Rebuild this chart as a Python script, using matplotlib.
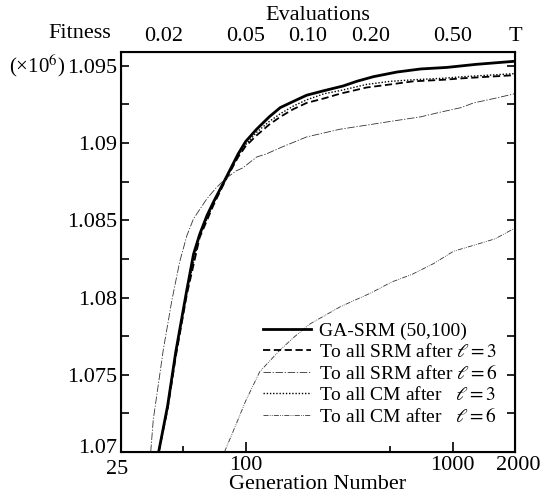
import matplotlib
matplotlib.use("Agg")
import matplotlib.pyplot as plt
from matplotlib.ticker import FixedLocator, NullFormatter, FuncFormatter
from matplotlib.transforms import ScaledTranslation

plt.rcParams["font.family"] = ["Liberation Serif", "DejaVu Serif"]
plt.rcParams["mathtext.fontset"] = "stix"
fs = 16      # tick labels, axis titles
fs_leg = 14  # legend

# GA-SRM (50,100)
gen_ga = [38, 42, 46, 52, 56, 60, 65, 70, 80, 92, 100, 113, 130, 147, 170, 197,
          240, 296, 344, 414, 537, 700, 936, 1300, 2000]
fit_ga = [1.0700, 1.0730, 1.0765, 1.0805, 1.0828, 1.0841, 1.0853, 1.0862, 1.0877,
          1.0893, 1.0901, 1.0909, 1.0917, 1.0923, 1.0927, 1.0931, 1.0934, 1.0937,
          1.0940, 1.0943, 1.0946, 1.0948, 1.0949, 1.0951, 1.0953]

# To all SRM after l=3
gen_srm3 = [38, 42, 46, 52, 60, 70, 80, 92, 100, 113, 130, 147, 170, 197, 240,
            286, 384, 500, 646, 900, 1127, 1500, 2000]
fit_srm3 = [1.0700, 1.0728, 1.0762, 1.0802, 1.0839, 1.0860, 1.0876, 1.0891, 1.0898,
            1.0905, 1.0912, 1.0917, 1.0922, 1.0926, 1.0929, 1.0932, 1.0936, 1.0938,
            1.0940, 1.0941, 1.0942, 1.0943, 1.0944]

# To all SRM after l=6
gen_srm6 = [34.8, 35.8, 38, 40, 44, 48, 52, 56, 65, 72, 80, 90, 97, 113, 126, 147,
            197, 286, 400, 498, 700, 870, 1100, 1260, 1600, 2000]
fit_srm6 = [1.0700, 1.0721, 1.0745, 1.0766, 1.0798, 1.0823, 1.0840, 1.0851, 1.0864,
            1.0871, 1.0877, 1.0882, 1.0884, 1.0891, 1.0893, 1.0897, 1.0904, 1.0909,
            1.0912, 1.0914, 1.0917, 1.0920, 1.0923, 1.0926, 1.0929, 1.0932]

# To all CM after l=3
gen_cm3 = [38, 42, 46, 52, 60, 70, 80, 92, 100, 113, 130, 147, 170, 197, 240,
           286, 384, 500, 646, 900, 1127, 1500, 2000]
fit_cm3 = [1.0700, 1.0729, 1.0764, 1.0804, 1.0840, 1.0861, 1.0877, 1.0892, 1.0899,
           1.0907, 1.0914, 1.0919, 1.0924, 1.0928, 1.0932, 1.0934, 1.0938, 1.0940,
           1.0941, 1.0942, 1.0943, 1.0944, 1.0945]

# To all CM after l=6
gen_cm6 = [79, 90, 100, 117, 144, 170, 205, 286, 403, 506, 636, 809, 1010, 1275,
           1600, 2000]
fit_cm6 = [1.0700, 1.0718, 1.0733, 1.0752, 1.0765, 1.0774, 1.0783, 1.0794, 1.0803,
           1.0810, 1.0815, 1.0822, 1.0830, 1.0834, 1.0838, 1.0845]

x_ticks = [25, 100, 1000, 2000]
x_minor = [50, 500]
y_ticks = [1.07, 1.075, 1.08, 1.085, 1.09, 1.095]
y_labels = ["1.07", "1.075", "1.08", "1.085", "1.09", "1.095"]
eval_pos = [40, 100, 200, 400, 1000, 2000]
eval_labels = ["0.02", "0.05", "0.10", "0.20", "0.50", "T"]

fig = plt.figure(figsize=(5.44, 4.96), dpi=100)
ax = fig.add_axes([0.2224, 0.0887, 0.7243, 0.8065])

ax.plot(gen_ga, fit_ga, color="black", lw=2.0, label="GA-SRM (50,100)")
ax.plot(gen_srm3, fit_srm3, color="black", lw=1.3, dashes=(4, 2),
        label="To all SRM after $\\ell = 3$")
ax.plot(gen_srm6, fit_srm6, color="#333333", lw=0.6, dashes=(9, 2, 1.5, 2),
        label="To all SRM after $\\ell = 6$")
ax.plot(gen_cm3, fit_cm3, color="black", lw=1.0, dashes=(1, 1.3),
        label="To all CM after   $\\ell = 3$")
ax.plot(gen_cm6, fit_cm6, color="#333333", lw=0.6, dashes=(6, 1.5, 1, 1.5, 1, 1.5),
        label="To all CM after   $\\ell = 6$")

ax.set_xscale("log")
ax.set_xlim(25, 2000)
ax.set_ylim(1.07, 1.0959)
ax.xaxis.set_major_locator(FixedLocator(x_ticks))
ax.xaxis.set_major_formatter(FuncFormatter(lambda v, p: f"{v:g}"))
ax.xaxis.set_minor_locator(FixedLocator(x_minor))
ax.xaxis.set_minor_formatter(NullFormatter())
ax.yaxis.set_major_locator(FixedLocator(y_ticks))
ax.set_yticklabels(y_labels)
ax.yaxis.set_minor_locator(FixedLocator([v + 0.0025 for v in y_ticks[:-1]]))

ax.tick_params(which="both", direction="in", top=True, right=True, labelsize=fs,
               width=1.2)
ax.tick_params(axis="x", which="major", length=7, pad=3)
ax.tick_params(axis="x", which="minor", length=4.5)
ax.tick_params(axis="y", which="both", length=5.5, pad=3)
for s in ax.spines.values():
    s.set_linewidth(1.5)

# corner labels sit a little off their ticks, as in the original
fig.canvas.draw()
for lab in ax.get_xticklabels():
    if lab.get_text() == "25":
        lab.set_transform(lab.get_transform() + ScaledTranslation(-3 / 72, -3 / 72, fig.dpi_scale_trans))
    if lab.get_text() == "2000":
        lab.set_transform(lab.get_transform() + ScaledTranslation(2.5 / 72, 0, fig.dpi_scale_trans))
for lab in ax.get_yticklabels():
    if lab.get_text() == "1.07":
        lab.set_transform(lab.get_transform() + ScaledTranslation(0, 4 / 72, fig.dpi_scale_trans))

ax.set_xlabel("Generation Number", fontsize=fs, labelpad=-3)

ax2 = ax.twiny()
ax2.set_xscale("log")
ax2.set_xlim(25, 2000)
ax2.xaxis.set_major_locator(FixedLocator(eval_pos))
ax2.set_xticklabels(eval_labels)
ax2.xaxis.set_minor_locator(FixedLocator([]))
ax2.tick_params(length=0, labelsize=fs, pad=4)
ax2.set_xlabel("Evaluations", fontsize=fs, labelpad=5)

ax.text(-0.105, 1.045, "Fitness", transform=ax.transAxes, fontsize=fs,
        ha="center", va="center")
ax.text(-0.142, 1.095, "(×10$^6$)", transform=ax.get_yaxis_transform(),
        fontsize=15, ha="right", va="center")

ax.legend(loc="lower left", bbox_to_anchor=(0.36, 0.065), frameon=False,
          fontsize=fs_leg, handlelength=2.5, handletextpad=0.4, labelspacing=0.15,
          borderpad=0, borderaxespad=0)

fig.savefig("out.png", dpi=100)
